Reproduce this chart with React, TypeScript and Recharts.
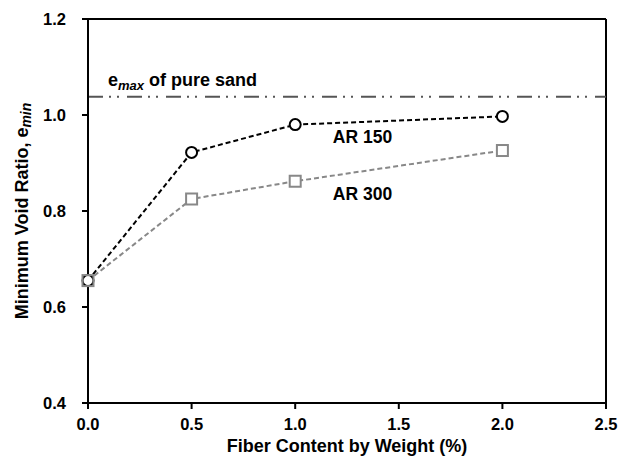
import React from 'react';
import { LineChart, Line, XAxis, YAxis, ReferenceLine, Label } from 'recharts';

const fiberContent = [0, 0.5, 1.0, 2.0];
const ar150 = [0.655, 0.922, 0.980, 0.997];
const ar300 = [0.655, 0.825, 0.862, 0.926];
const emaxPureSand = 1.038;
const xTicks = [0, 0.5, 1.0, 1.5, 2.0, 2.5];
const yTicks = [0.4, 0.6, 0.8, 1.0, 1.2];

const data = fiberContent.map((x, i) => ({ x, ar150: ar150[i], ar300: ar300[i] }));

const FONT = '"Liberation Sans", Arial, sans-serif';

const CircleDot = (props: any) => {
  const { cx, cy } = props;
  if (cx == null || cy == null) return null;
  return <circle cx={cx} cy={cy} r={5.5} fill="#fff" stroke="#000" strokeWidth={2} />;
};

const SquareDot = (props: any) => {
  const { cx, cy, index } = props;
  if (cx == null || cy == null) return null;
  return <rect x={cx - 5.5} y={cy - 5.5} width={11} height={11} fill={index === 0 ? 'none' : '#fff'} stroke="#888" strokeWidth={2} />;
};

const YTitle = (props: any) => {
  const vb = props.viewBox || {};
  const cy = vb.y + vb.height / 2;
  const cx = 22;
  return (
    <text
      x={cx}
      y={cy}
      transform={`rotate(-90, ${cx}, ${cy})`}
      textAnchor="middle"
      dominantBaseline="central"
      fontFamily={FONT}
      fontWeight="bold"
      fontSize={18}
      fill="#000"
    >
      Minimum Void Ratio, e
      <tspan fontStyle="italic" fontSize={14} dy={4}>min</tspan>
    </text>
  );
};

const XTitle = (props: any) => {
  const vb = props.viewBox || {};
  return (
    <text
      x={vb.x + vb.width / 2}
      y={452}
      textAnchor="middle"
      fontFamily={FONT}
      fontWeight="bold"
      fontSize={18}
      fill="#000"
    >
      Fiber Content by Weight (%)
    </text>
  );
};

const EmaxLabel = (props: any) => {
  const vb = props.viewBox || {};
  return (
    <text x={vb.x + 20} y={vb.y - 11} fontFamily={FONT} fontWeight="bold" fontSize={18} fill="#000">
      e<tspan fontStyle="italic" fontSize={13} dy={4}>max</tspan>
      <tspan dy={-4}> of pure sand</tspan>
    </text>
  );
};

const tickStyle = { fill: '#000', fontFamily: FONT, fontWeight: 'bold', fontSize: 16.5 };

export default function App() {
  return (
    <div style={{ position: 'absolute', left: 0, top: 0, background: '#fff' }}>
      <LineChart
        width={632}
        height={462}
        data={data}
        margin={{ top: 19, right: 26, left: 28, bottom: 29 }}
      >
        <XAxis
          dataKey="x"
          type="number"
          domain={[0, 2.5]}
          ticks={xTicks}
          tickFormatter={(v: number) => v.toFixed(1)}
          stroke="#000"
          strokeWidth={2}
          tickSize={6}
          tickMargin={9}
          tickLine={{ stroke: '#000', strokeWidth: 2 }}
          tick={tickStyle}
          height={30}
          interval={0}
        >
          <Label content={<XTitle />} />
        </XAxis>
        <YAxis
          type="number"
          domain={[0.4, 1.2]}
          ticks={yTicks}
          tickFormatter={(v: number) => v.toFixed(1)}
          stroke="#000"
          strokeWidth={2}
          tickSize={6}
          tickMargin={16}
          tickLine={{ stroke: '#000', strokeWidth: 2 }}
          tick={tickStyle}
          width={60}
          interval={0}
        >
          <Label content={<YTitle />} />
        </YAxis>
        <ReferenceLine y={1.2} stroke="#000" strokeWidth={2} />
        <ReferenceLine x={2.5} stroke="#000" strokeWidth={2} />
        <ReferenceLine
          y={emaxPureSand}
          stroke="#555"
          strokeWidth={2}
          strokeDasharray="15 6 2 6 2 8"
        >
          <Label content={<EmaxLabel />} />
        </ReferenceLine>
        <Line
          dataKey="ar150"
          stroke="#000"
          strokeWidth={2}
          strokeDasharray="5 3"
          dot={<CircleDot />}
          isAnimationActive={false}
        />
        <Line
          dataKey="ar300"
          stroke="#888"
          strokeWidth={2}
          strokeDasharray="5 3"
          dot={<SquareDot />}
          isAnimationActive={false}
        />
        <ReferenceLine y={0.952} stroke="none" ifOverflow="visible">
          <Label content={(p: any) => (
            <text x={362.5} y={p.viewBox.y + 5} textAnchor="middle" fontFamily={FONT} fontWeight="bold" fontSize={17.5} fill="#000">AR 150</text>
          )} />
        </ReferenceLine>
        <ReferenceLine y={0.8333} stroke="none" ifOverflow="visible">
          <Label content={(p: any) => (
            <text x={362.5} y={p.viewBox.y + 5} textAnchor="middle" fontFamily={FONT} fontWeight="bold" fontSize={17.5} fill="#000">AR 300</text>
          )} />
        </ReferenceLine>
      </LineChart>
    </div>
  );
}
